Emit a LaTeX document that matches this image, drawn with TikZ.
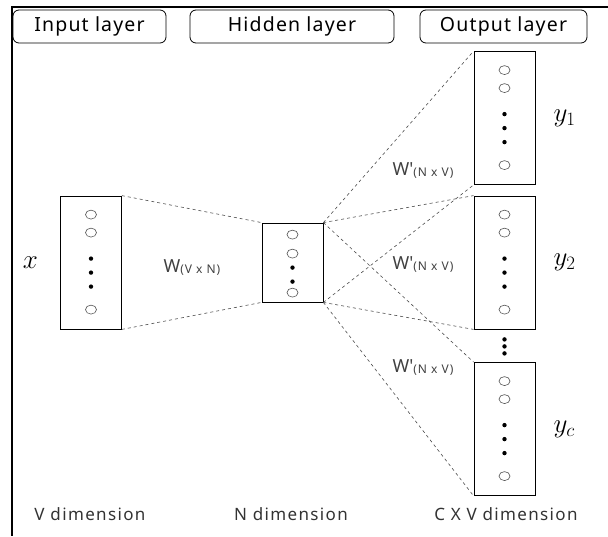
\documentclass[tikz,border=0pt]{standalone}
\usepackage{fix-cm}
\usepackage{amsmath}
\usepackage{fontspec}
\newfontfamily\headfont[LetterSpace=6]{Noto Sans}
\newfontfamily\labfont[LetterSpace=8]{Noto Sans}
\usepackage{tikz}
\usetikzlibrary{positioning}

\tikzset{
    headbox/.style={draw, line width=0.8pt, rounded corners=6pt, minimum width=#1,
        minimum height=33pt, inner sep=0pt, font=\headfont\fontsize{19.5}{22}\selectfont},
    layerbox/.style={draw, line width=0.8pt, minimum width=61pt, minimum height=133pt, inner sep=0pt},
    weight/.style={dashed, gray!60!black, line width=0.6pt},
    unit/.style={gray!70!black, line width=0.6pt},
    wlabel/.style={text=gray!50!black, inner sep=0pt},
    dimlabel/.style={text=black!80, font=\labfont\fontsize{17}{20}\selectfont},
    outlabel/.style={font=\fontsize{27}{30}\selectfont, inner sep=0pt},
}

\begin{document}
\begin{tikzpicture}[x=1pt, y=-1pt]
    \useasboundingbox (0,0) rectangle (608,536);
    % 	frame
        \draw [line width=1.5pt] (608,7) -- (12,7) -- (12,536);
        \node [headbox=153pt] (headin) at (89.5,26.5) {Input layer};
        \node [headbox=204pt] (headhid) at (292,26.5) {Hidden layer};
        \node [headbox=167pt] (headout) at (503.5,26.5) {Output layer};

        \node [layerbox] (in) at (91,262.5) {};
        \node [layerbox, minimum height=79pt] (hid) at (292.5,262.5) {};
        \node [layerbox] (out1) at (504.5,118) {};
        \node [layerbox] (out2) at (504.5,262.5) {};
        \node [layerbox] (out3) at (504.5,429) {};

        \foreach \b in {in,out1,out2,out3}{
            \foreach \d in {19,37,114}
                \draw [unit] ([yshift=-\d pt]\b.north) ellipse (5.5 and 4.5);
            \foreach \d in {63,77,91}
                \fill ([yshift=-\d pt]\b.north) circle (2.2);
        }
        \foreach \d in {12,31,70}
            \draw [unit] ([yshift=-\d pt]hid.north) ellipse (5.5 and 4.5);
        \foreach \d in {45,59}
            \fill ([yshift=-\d pt]hid.north) circle (2.2);
        \foreach \d in {10,17,24}
            \fill ([yshift=-\d pt]out2.south) circle (2.2);

        \draw [weight] (in.north east) -- (hid.north west);
        \draw [weight] (in.south east) -- (hid.south west);
        \foreach \o in {out1,out2,out3}{
            \draw [weight] (hid.north east) -- (\o.north west);
            \draw [weight] (hid.south east) -- (\o.south west);
        }

        \node [wlabel] (win) at (192,268) {{\labfont\fontsize{18}{20}\selectfont W}\raisebox{-1pt}{\labfont\fontsize{12}{14}\selectfont(V x N)}};
        \node [wlabel] (wout1) at (423,171) {{\labfont\fontsize{18}{20}\selectfont W\textquotesingle}\raisebox{-1pt}{\labfont\fontsize{12}{14}\selectfont(N x V)}};
        \node [wlabel] (wout2) at (423,265) {{\labfont\fontsize{18}{20}\selectfont W\textquotesingle}\raisebox{-1pt}{\labfont\fontsize{12}{14}\selectfont(N x V)}};
        \node [wlabel] (wout3) at (423,368) {{\labfont\fontsize{18}{20}\selectfont W\textquotesingle}\raisebox{-1pt}{\labfont\fontsize{12}{14}\selectfont(N x V)}};

        \node [outlabel, left=22pt of in] (x) {$x$};
        \node [outlabel, right=18pt of out1] (y1) {$y_1$};
        \node [outlabel, right=18pt of out2] (y2) {$y_2$};
        \node [outlabel, right=18pt of out3] (yc) {$y_c$};

        \node [dimlabel] (dimin) at (90,514) {V dimension};
        \node [dimlabel] (dimhid) at (291,514) {N dimension};
        \node [dimlabel] (dimout) at (506,514) {C X V dimension};
    \end{tikzpicture}
\end{document}
